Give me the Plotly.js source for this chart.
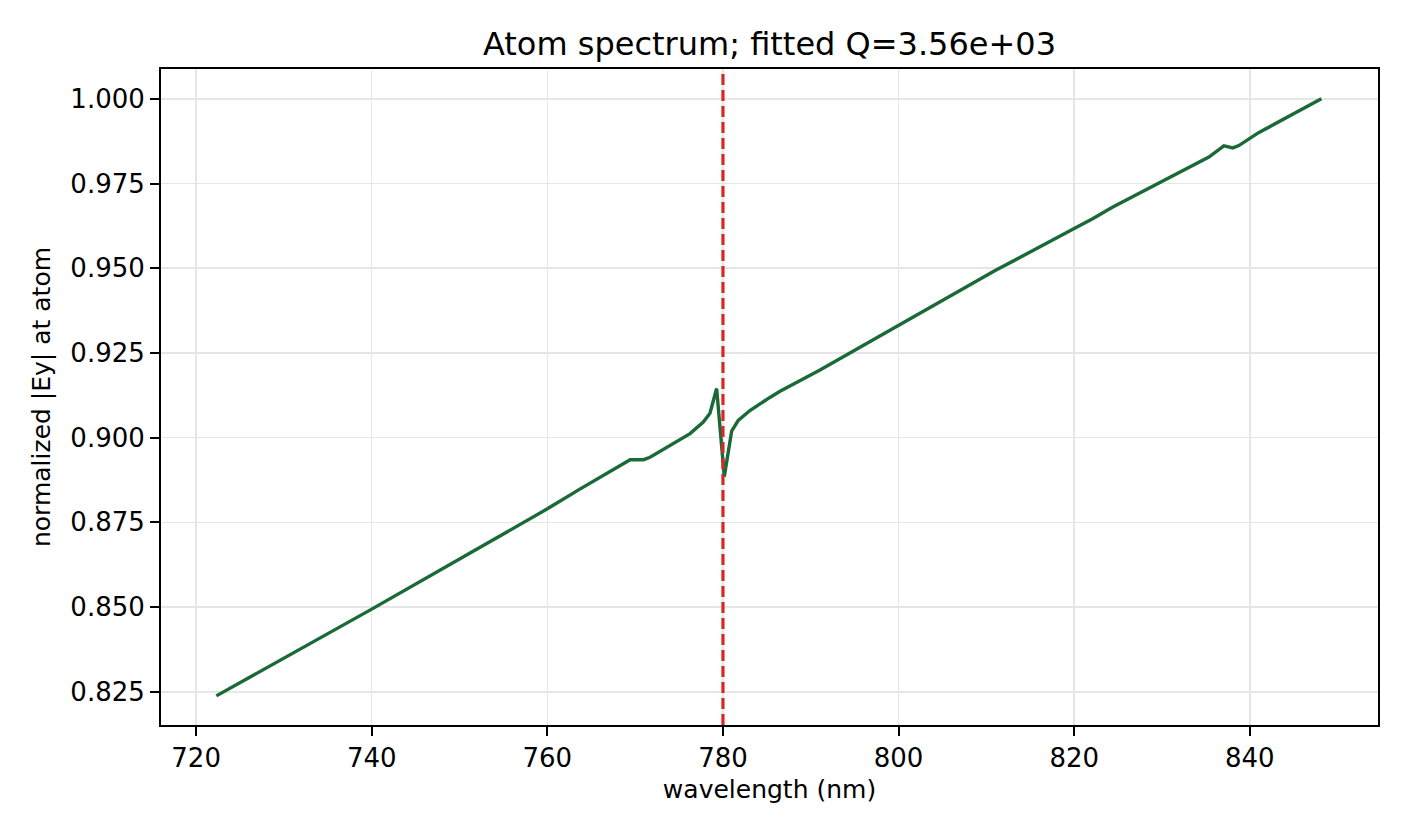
<!DOCTYPE html>
<html>
<head>
<meta charset="utf-8">
<script src="https://cdn.plot.ly/plotly-3.0.1.min.js"></script>
<style>
html,body{margin:0;padding:0;background:#fff;}
#chart{width:1406px;height:836px;}
</style>
</head>
<body>
<div id="chart"></div>
<script>
// wavelength (nm)
const wavelength = [722.3, 728.1, 740.0, 751.3, 760.0, 763.75, 768.86, 769.43, 770.95, 771.7,
  776.25, 777.76, 778.52, 779.28, 780.15, 780.99, 781.74, 783.07, 785.3, 786.5, 791.0,
  800.0, 811.0, 820.0, 822.1, 824.35, 829.66, 835.34, 837.05, 838.07, 838.75, 841.0, 848.15];
// normalized |Ey| at atom
const fieldEy = [0.8238, 0.8321, 0.8494, 0.8661, 0.8790, 0.8849, 0.8928, 0.8935, 0.8935, 0.8942,
  0.9012, 0.9046, 0.9072, 0.9145, 0.8885, 0.9019, 0.9051, 0.9080, 0.9118, 0.9137, 0.9199,
  0.9332, 0.9493, 0.9617, 0.9646, 0.9680, 0.9751, 0.9828, 0.9861, 0.9855, 0.9862, 0.9900, 1.0000];
const resonanceNm = 780.0;
const xTicks = [720, 740, 760, 780, 800, 820, 840];
const yTicks = [0.825, 0.850, 0.875, 0.900, 0.925, 0.950, 0.975, 1.000];
const titleText = 'Atom spectrum; fitted Q=3.56e+03';

const font = {family: 'DejaVu Sans, sans-serif', color: '#000'};

const trace = {
  x: wavelength, y: fieldEy, type: 'scatter', mode: 'lines',
  line: {color: '#1a6a37', width: 3.4}, hoverinfo: 'skip'
};

const axisCommon = {
  showline: true, linecolor: '#000', linewidth: 2, mirror: true,
  ticks: 'outside', ticklen: 9, tickwidth: 2, tickcolor: '#000',
  showgrid: true, gridcolor: '#e6e6e6', gridwidth: 1.5,
  zeroline: false, tickfont: Object.assign({size: 26}, font)
};

const layout = {
  width: 1406, height: 836,
  margin: {l: 161, r: 28, t: 69, b: 111},
  paper_bgcolor: '#fff', plot_bgcolor: '#fff',
  showlegend: false,
  font: font,
  title: {text: titleText, font: Object.assign({size: 32}, font),
          x: 0.5, xanchor: 'center', y: 1 - 44/836, yanchor: 'middle', yref: 'container', xref: 'paper'},
  xaxis: Object.assign({}, axisCommon, {
    range: [716.0, 854.6], tickvals: xTicks, ticktext: xTicks.map(String),
    title: {text: 'wavelength (nm)', font: Object.assign({size: 25}, font), standoff: 8}
  }),
  yaxis: Object.assign({}, axisCommon, {
    range: [0.8152, 1.0088], tickvals: yTicks, ticktext: yTicks.map(v => v.toFixed(3)),
    title: {text: 'normalized |Ey| at atom', font: Object.assign({size: 25}, font), standoff: 13}
  }),
  shapes: [{
    type: 'line', xref: 'x', yref: 'paper', x0: resonanceNm, x1: resonanceNm, y0: 0, y1: 1,
    line: {color: '#d62728', width: 3.2, dash: '11px,5px'}
  }]
};
Plotly.newPlot('chart', [trace], layout, {staticPlot: true, displayModeBar: false});
</script>
</body>
</html>
